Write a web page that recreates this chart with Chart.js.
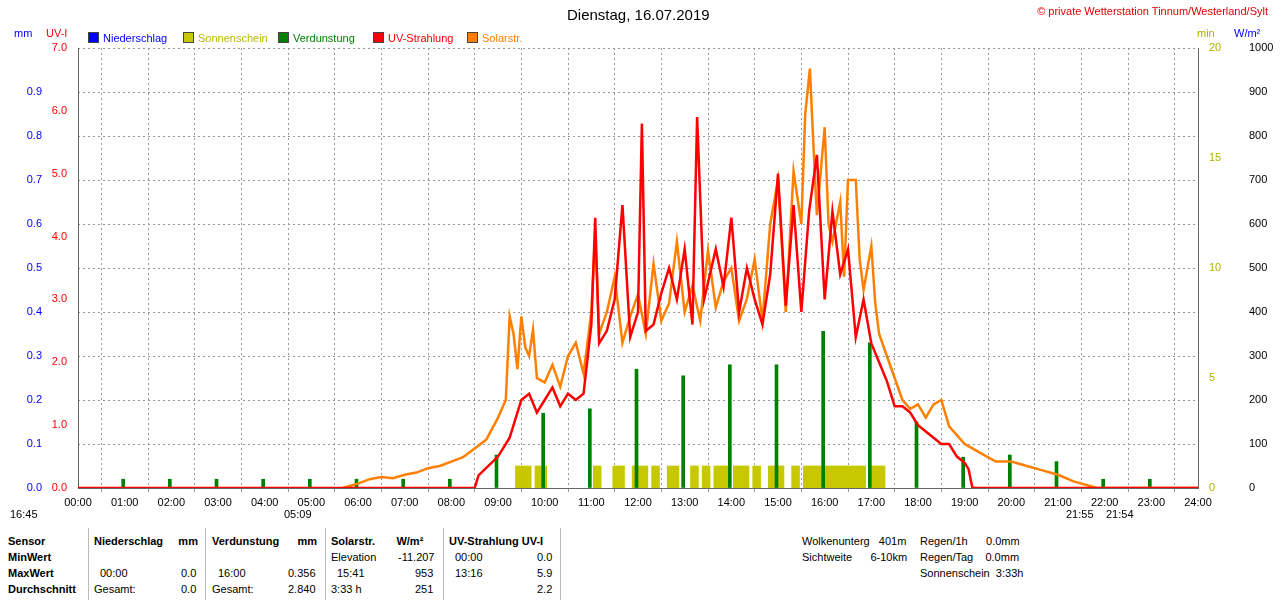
<!DOCTYPE html>
<html>
<head>
<meta charset="utf-8">
<script src="https://cdn.jsdelivr.net/npm/chart.js@4"></script>
<style>
body { margin: 0; background: #fff; font-family: "Liberation Sans", Arial, sans-serif; }
#wrap { position: relative; width: 1280px; height: 600px; }
#wrap canvas { position: absolute; left: 0; top: 0; }
.t { position: absolute; font-size: 12px; white-space: nowrap; }
.s { position: absolute; font-size: 11px; white-space: nowrap; }
.b { font-weight: bold; }
.sq { display: inline-block; width: 9px; height: 9px; border: 1px solid #444; margin-right: 4px; vertical-align: -1px; }
.vl { position: absolute; width: 1px; background: #bbb; top: 528px; height: 72px; }
</style>
</head>
<body>
<div id="wrap">
<canvas id="c" width="1280" height="512"></canvas>
<div class="t" style="left:567px;top:6px;font-size:15px;">Dienstag, 16.07.2019</div>
<div class="s" style="right:12px;top:5px;color:#e00000;">© private Wetterstation Tinnum/Westerland/Sylt</div>
<div class="s" style="left:14px;top:27px;color:#0000ff;">mm</div>
<div class="s" style="left:46px;top:27px;color:#ff0000;">UV-I</div>
<div class="s" style="left:1197px;top:27px;color:#b0b000;">min</div>
<div class="s" style="left:1234px;top:27px;color:#0000ff;">W/m²</div>
<div class="s" style="left:88px;top:32px;color:#0000ff;"><span class="sq" style="background:#0000ff"></span>Niederschlag</div>
<div class="s" style="left:183px;top:32px;color:#b8b800;"><span class="sq" style="background:#c8c800"></span>Sonnenschein</div>
<div class="s" style="left:278px;top:32px;color:#008000;"><span class="sq" style="background:#008000"></span>Verdunstung</div>
<div class="s" style="left:373px;top:32px;color:#ff0000;"><span class="sq" style="background:#ff0000"></span>UV-Strahlung</div>
<div class="s" style="left:467px;top:32px;color:#ff8000;"><span class="sq" style="background:#ff8000"></span>Solarstr.</div>

<div class="s" style="left:10px;top:508px;">16:45</div>
<div class="s" style="left:284px;top:508px;">05:09</div>
<div class="s" style="left:1066px;top:508px;">21:55</div>
<div class="s" style="left:1106px;top:508px;">21:54</div>

<div class="vl" style="left:88px"></div><div class="vl" style="left:205px"></div>
<div class="vl" style="left:325px"></div><div class="vl" style="left:443px"></div>
<div class="vl" style="left:560px"></div>

<div class="s b" style="left:8px;top:535px;">Sensor</div>
<div class="s b" style="left:8px;top:551px;">MinWert</div>
<div class="s b" style="left:8px;top:567px;">MaxWert</div>
<div class="s b" style="left:8px;top:583px;">Durchschnitt</div>

<div class="s b" style="left:94px;top:535px;">Niederschlag&nbsp;&nbsp;&nbsp;&nbsp; mm</div>
<div class="s" style="left:100px;top:567px;">00:00</div>
<div class="s" style="left:181px;top:567px;">0.0</div>
<div class="s" style="left:94px;top:583px;">Gesamt:</div>
<div class="s" style="left:181px;top:583px;">0.0</div>

<div class="s b" style="left:212px;top:535px;">Verdunstung&nbsp;&nbsp;&nbsp;&nbsp;&nbsp; mm</div>
<div class="s" style="left:218px;top:567px;">16:00</div>
<div class="s" style="left:288px;top:567px;">0.356</div>
<div class="s" style="left:212px;top:583px;">Gesamt:</div>
<div class="s" style="left:288px;top:583px;">2.840</div>

<div class="s b" style="left:331px;top:535px;">Solarstr.&nbsp;&nbsp;&nbsp;&nbsp;&nbsp;&nbsp; W/m²</div>
<div class="s" style="left:331px;top:551px;">Elevation</div>
<div class="s" style="left:398px;top:551px;">-11.207</div>
<div class="s" style="left:337px;top:567px;">15:41</div>
<div class="s" style="left:415px;top:567px;">953</div>
<div class="s" style="left:331px;top:583px;">3:33 h</div>
<div class="s" style="left:415px;top:583px;">251</div>

<div class="s b" style="left:449px;top:535px;">UV-Strahlung UV-I</div>
<div class="s" style="left:455px;top:551px;">00:00</div>
<div class="s" style="left:537px;top:551px;">0.0</div>
<div class="s" style="left:455px;top:567px;">13:16</div>
<div class="s" style="left:537px;top:567px;">5.9</div>
<div class="s" style="left:537px;top:583px;">2.2</div>

<div class="s" style="left:802px;top:535px;">Wolkenunterg&nbsp;&nbsp; 401m</div>
<div class="s" style="left:802px;top:551px;">Sichtweite&nbsp;&nbsp;&nbsp;&nbsp;&nbsp; 6-10km</div>
<div class="s" style="left:920px;top:535px;">Regen/1h&nbsp;&nbsp;&nbsp;&nbsp;&nbsp; 0.0mm</div>
<div class="s" style="left:920px;top:551px;">Regen/Tag&nbsp;&nbsp;&nbsp; 0.0mm</div>
<div class="s" style="left:920px;top:567px;">Sonnenschein&nbsp; 3:33h</div>
</div>
<script>
// time as "hh:mm" -> decimal hours
const h = s => { const [a, b] = s.split(':').map(Number); return a + b / 60; };

const solar = [
  ['05:40',0],['06:00',10],['06:15',20],['06:30',25],['06:45',22],['07:00',30],['07:15',35],['07:30',45],
  ['07:45',50],['08:00',60],['08:15',70],['08:30',90],['08:45',110],['09:00',160],['09:10',200],['09:15',390],
  ['09:20',350],['09:25',270],['09:30',390],['09:35',320],['09:40',300],['09:45',360],['09:50',250],['10:00',240],
  ['10:10',280],['10:20',230],['10:30',300],['10:40',330],['10:50',260],['11:00',400],['11:05',580],['11:10',350],
  ['11:20',400],['11:30',480],['11:40',330],['11:50',390],['12:00',440],['12:10',350],['12:20',510],['12:30',380],
  ['12:40',420],['12:50',560],['13:00',400],['13:10',460],['13:20',380],['13:30',540],['13:40',410],['13:50',470],
  ['14:00',500],['14:10',380],['14:20',430],['14:30',520],['14:40',380],['14:50',600],['15:00',700],['15:10',400],
  ['15:20',720],['15:30',600],['15:35',850],['15:41',953],['15:45',800],['15:50',620],['16:00',820],['16:05',600],
  ['16:10',560],['16:20',650],['16:25',480],['16:30',700],['16:40',700],['16:45',520],['16:50',450],['17:00',550],
  ['17:05',420],['17:10',350],['17:20',300],['17:30',250],['17:40',200],['17:50',180],['18:00',190],['18:10',160],
  ['18:20',190],['18:30',200],['18:40',140],['18:50',120],['19:00',100],['19:10',90],['19:20',80],['19:40',60],
  ['20:00',60],['20:20',50],['20:40',40],['21:00',30],['21:20',15],['21:40',5],['21:50',0],['24:00',0]
];

const uv = [
  ['00:00',0],['08:30',0],['08:35',0.2],['09:00',0.5],['09:15',0.8],['09:30',1.4],['09:40',1.5],['09:50',1.2],
  ['10:00',1.4],['10:10',1.6],['10:20',1.3],['10:30',1.5],['10:40',1.4],['10:50',1.5],['11:00',2.6],['11:05',4.3],
  ['11:10',2.3],['11:20',2.5],['11:30',3.0],['11:40',4.5],['11:50',2.4],['12:00',2.8],['12:05',5.8],['12:10',2.5],
  ['12:20',2.6],['12:30',3.1],['12:40',3.5],['12:50',3.0],['13:00',3.8],['13:10',2.6],['13:16',5.9],['13:25',3.0],
  ['13:40',3.8],['13:50',3.2],['14:00',4.3],['14:10',2.8],['14:20',3.5],['14:30',3.0],['14:40',2.6],['14:50',3.4],
  ['15:00',5.0],['15:10',2.9],['15:20',4.5],['15:30',2.8],['15:40',4.4],['15:50',5.3],['16:00',3.0],['16:10',4.4],
  ['16:20',3.4],['16:30',3.8],['16:40',2.4],['16:50',3.0],['17:00',2.3],['17:10',2.0],['17:20',1.7],['17:30',1.3],
  ['17:40',1.3],['17:50',1.2],['18:00',1.0],['18:10',0.9],['18:20',0.8],['18:30',0.7],['18:40',0.7],['18:50',0.5],
  ['19:00',0.4],['19:05',0.3],['19:10',0.0],['24:00',0]
];

// evaporation per hour, mm
const verdunstung = [0.02,0.02,0.02,0.02,0.02,0.02,0.02,0.02,0.02,0.075,0.17,0.18,
                     0.27,0.255,0.28,0.28,0.356,0.33,0.15,0.07,0.075,0.06,0.02,0.02];

// sunshine minutes per 5-min slot
const sonne = ['09:20','09:25','09:30','09:35','09:45','09:50','09:55','11:00','11:05','11:25','11:30','11:35',
  '11:50','11:55','12:00','12:05','12:15','12:20','12:35','12:40','12:45','13:05','13:10','13:20','13:25',
  '13:35','13:40','13:45','13:50','14:00','14:05','14:10','14:15','14:25','14:30','14:45','14:50','14:55','15:00',
  '15:15','15:20','15:30','15:35','15:40','15:45','15:50','15:55','16:00','16:05','16:10','16:15','16:20','16:25',
  '16:30','16:35','16:40','16:45','16:55','17:00','17:05','17:10'];

const GRID = '#999';
const tickFont = { family: 'Liberation Sans, Arial', size: 11 };
const fixW = w => ax => { ax.width = w; };

new Chart(document.getElementById('c'), {
  data: {
    datasets: [
      { type: 'bar', data: sonne.map(t => ({ x: h(t) + 2.5 / 60, y: 1 })), backgroundColor: '#c8c800',
        barThickness: 4, yAxisID: 'yMin', order: 5 },
      { type: 'bar', data: verdunstung.map((v, i) => ({ x: i, y: v })), backgroundColor: '#008000',
        barThickness: 3, yAxisID: 'yMM', order: 4 },
      { type: 'line', data: solar.map(([t, v]) => ({ x: h(t), y: v })), borderColor: '#ff8000',
        borderWidth: 2.5, pointRadius: 0, tension: 0, yAxisID: 'yW', order: 2 },
      { type: 'line', data: uv.map(([t, v]) => ({ x: h(t), y: v })), borderColor: '#ff0000',
        borderWidth: 2.5, pointRadius: 0, tension: 0, yAxisID: 'yUV', order: 1 },
    ]
  },
  options: {
    responsive: false,
    animation: false,
    layout: { padding: { top: 48, left: 0, right: 0, bottom: 0 } },
    plugins: { legend: { display: false }, tooltip: { enabled: false } },
    scales: {
      x: {
        type: 'linear', min: 0, max: 24, offset: false,
        ticks: { stepSize: 1, color: '#000', font: tickFont, padding: 4, maxRotation: 0,
                 callback: v => String(v).padStart(2, '0') + ':00' },
        grid: { color: GRID, tickLength: 4 },
        border: { color: '#666', dash: [2, 3] },
        afterFit: ax => { ax.height = 24; },
      },
      yUV: {
        position: 'left', min: 0, max: 7, ticks: { stepSize: 1, color: '#ff0000', font: tickFont,
          callback: v => v.toFixed(1) }, grid: { display: false }, border: { color: '#666' }, afterFit: fixW(33),
      },
      yMM: {
        position: 'left', min: 0, max: 1, ticks: { stepSize: 0.1, color: '#0000ff', font: tickFont,
          callback: v => v >= 0.99 ? '' : v.toFixed(1) }, grid: { color: GRID, drawTicks: false },
        border: { display: false, dash: [2, 3] }, afterFit: fixW(45),
      },
      yMin: {
        position: 'right', min: 0, max: 20, ticks: { stepSize: 5, color: '#b0b000', font: tickFont },
        grid: { display: false }, border: { color: '#666' }, afterFit: fixW(40),
      },
      yW: {
        position: 'right', min: 0, max: 1000, ticks: { stepSize: 100, color: '#000', font: tickFont,
          callback: v => String(v) }, grid: { display: false }, border: { display: false }, afterFit: fixW(42),
      },
    }
  }
});
</script>
</body>
</html>
